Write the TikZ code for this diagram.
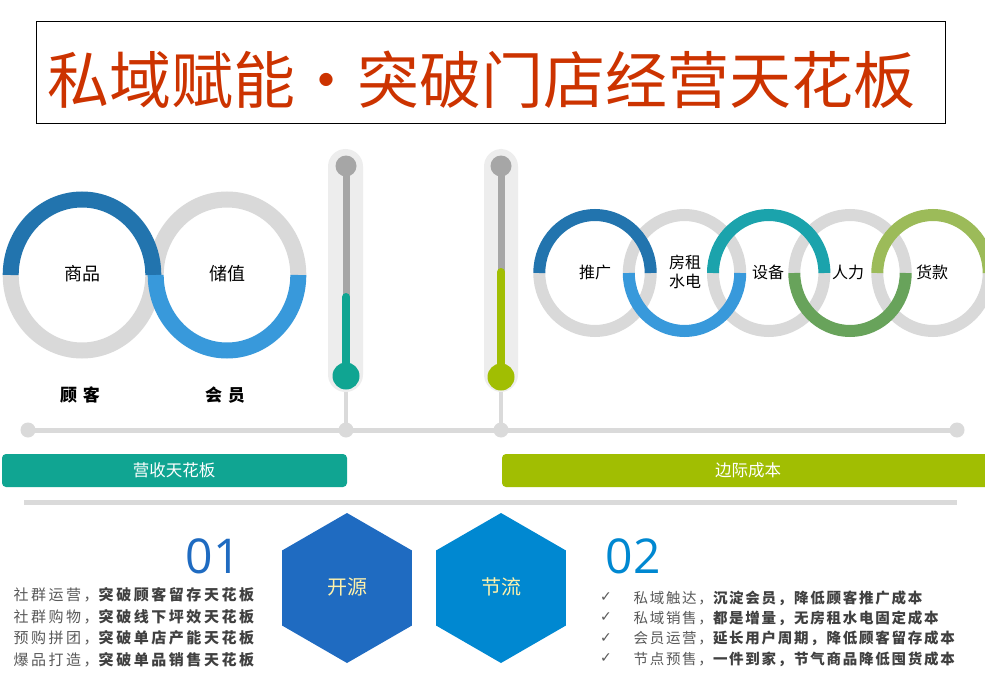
\documentclass[tikz,border=0pt]{standalone}
\usepackage{fontspec}
\setmainfont{Noto Sans CJK SC}
\newfontfamily\numfont{Open Sans}
\newfontfamily\symfont{DejaVu Sans}
\definecolor{titlered}{HTML}{CC3300}
\definecolor{ringgray}{HTML}{D9D9D9}
\definecolor{linegray}{HTML}{DADADA}
\definecolor{thermobg}{HTML}{EDEDED}
\definecolor{knobgray}{HTML}{A6A6A6}
\definecolor{tealc}{HTML}{10A592}
\definecolor{limec}{HTML}{A1BE02}
\definecolor{darkblue}{HTML}{2274AE}
\definecolor{lightblue}{HTML}{3899DB}
\definecolor{tealring}{HTML}{1BA3AC}
\definecolor{greenring}{HTML}{68A35B}
\definecolor{olivering}{HTML}{9CBB59}
\definecolor{hexA}{HTML}{1F6BC1}
\definecolor{hexB}{HTML}{0088D1}
\definecolor{hextext}{HTML}{FFF2AB}
\definecolor{txtgray}{HTML}{595959}
\definecolor{txtdark}{HTML}{404040}
\newcommand\ringarc[8]{\draw[line width=#8, draw=#7] (#1,#2) ++(#5:#3 and #4) arc[start angle=#5, end angle=#6, x radius=#3, y radius=#4];}
\begin{document}
\begin{tikzpicture}[x=1pt,y=-1pt,
  ringlabel/.style={font=\fontsize{18}{20}\selectfont, text=black, align=center},
  smallring/.style={font=\fontsize{16}{19}\selectfont, text=black, align=center},
  barlabel/.style={font=\fontsize{16.5}{16.5}\selectfont, text=white},
  hexlabel/.style={font=\fontsize{20}{20}\selectfont, text=hextext},
  leftline/.style={anchor=west, text=txtgray, font=\fontsize{15}{15}\selectfont\addfontfeature{LetterSpace=17}},
  rightline/.style={anchor=west, text=txtgray, font=\fontsize{14.5}{15}\selectfont\addfontfeature{LetterSpace=12}},
  checkmark/.style={text=txtgray, font=\symfont\fontsize{14}{14}\selectfont},
  dot/.style={fill=linegray}
]
\useasboundingbox (0,0) rectangle (985,690);
\fill[white] (0,0) rectangle (985,690);

% title
\node[draw=black, line width=1pt, minimum width=909pt, minimum height=102pt, inner sep=0] (titlebox) at (490.5,73) {};
\node[font=\fontsize{62}{62}\selectfont, text=titlered] (title) at (481,80) {私域赋能•突破门店经营天花板};

% left rings
\ringarc{82}{275}{71.3}{75.5}{0}{180}{ringgray}{16}
\ringarc{227}{275}{71.3}{75.5}{180}{360}{ringgray}{16}
\ringarc{82}{275}{71.3}{75.5}{180}{360}{darkblue}{16}
\ringarc{227}{275}{71.3}{75.5}{0}{180}{lightblue}{16}
\node[ringlabel] (shangpin) at (82,274) {商品};
\node[ringlabel] (chuzhi) at (227,274) {储值};
\node[font=\fontsize{17}{17}\selectfont\bfseries\addfontfeature{LetterSpace=35}, text=black] (guke) at (80,395) {顾客};
\node[font=\fontsize{17}{17}\selectfont\bfseries\addfontfeature{LetterSpace=35}, text=black] (huiyuan) at (225,395) {会员};

% thermometers
\fill[thermobg, rounded corners=17.5] (328,149) rectangle (363,392);
\draw[knobgray, line width=7] (346,166) -- (346,300);
\fill[knobgray] (346,166) circle (10.5);
\draw[tealc, line width=8, line cap=round] (346,297) -- (346,376);
\fill[tealc] (346,376) circle (13.5);
\draw[linegray, line width=4] (346,392) -- (346,430);

\fill[thermobg, rounded corners=17.5] (484,149) rectangle (518,392);
\draw[knobgray, line width=7] (501,166) -- (501,275);
\fill[knobgray] (501,166) circle (10.5);
\draw[limec, line width=8, line cap=round] (501,272) -- (501,377);
\fill[limec] (501,377) circle (13.5);
\draw[linegray, line width=4] (501,392) -- (501,430);

% timeline
\coordinate (t0) at (28,430);
\coordinate (t1) at (346,430);
\coordinate (t2) at (501,430);
\coordinate (t3) at (957,430);
\draw[linegray, line width=5] (t0) -- (t3);
\foreach \p in {t0,t1,t2,t3} \fill[dot] (\p) circle (7.5);

% right rings
\ringarc{684.5}{273}{55.7}{58}{180}{360}{ringgray}{12}
\ringarc{850}{273}{55.7}{58}{180}{360}{ringgray}{12}
\ringarc{595}{273}{55.7}{58}{0}{180}{ringgray}{12}
\ringarc{768.7}{273}{55.7}{58}{0}{180}{ringgray}{12}
\ringarc{933}{273}{55.7}{58}{0}{180}{ringgray}{12}
\ringarc{595}{273}{55.7}{58}{180}{360}{darkblue}{12}
\ringarc{684.5}{273}{55.7}{58}{0}{180}{lightblue}{12}
\ringarc{768.7}{273}{55.7}{58}{180}{360}{tealring}{12}
\ringarc{850}{273}{55.7}{58}{0}{180}{greenring}{12}
\ringarc{933}{273}{55.7}{58}{180}{360}{olivering}{12}
\node[smallring] (tuiguang) at (595,272) {推广};
\node[smallring] (fangzu) at (685,272) {房租\\水电};
\node[smallring] (shebei) at (768,272) {设备};
\node[smallring] (renli) at (848,272) {人力};
\node[smallring] (huokuan) at (932,272) {货款};

% bars
\fill[tealc, rounded corners=4] (2,454) rectangle (347,487);
\node[barlabel] (yingshou) at (174,470) {营收天花板};
\fill[limec, rounded corners=4] (502,454) rectangle (995,487);
\node[barlabel] (bianji) at (748,470) {边际成本};

% separator
\draw[linegray, line width=5] (24,502) -- (957,502);

% hexagons
\fill[hexA] (347,588) +(90:75) -- +(30:75) -- +(-30:75) -- +(-90:75) -- +(-150:75) -- +(150:75) -- cycle;
\node[hexlabel] (kaiyuan) at (347,587) {开源};
\fill[hexB] (501,588) +(90:75) -- +(30:75) -- +(-30:75) -- +(-90:75) -- +(-150:75) -- +(150:75) -- cycle;
\node[hexlabel] (jieliu) at (501,587) {节流};

% numbers
\node[font=\numfont\fontsize{48}{48}\selectfont, text=hexA] (n01) at (213,556) {01};
\node[font=\numfont\fontsize{48}{48}\selectfont, text=hexB] (n02) at (633,556) {02};

% left list
\node[leftline] (l1) at (10,595) {社群运营，{\bfseries\color{txtdark}突破顾客留存天花板}};
\node[leftline] (l2) at (10,617) {社群购物，{\bfseries\color{txtdark}突破线下坪效天花板}};
\node[leftline] (l3) at (10,638) {预购拼团，{\bfseries\color{txtdark}突破单店产能天花板}};
\node[leftline] (l4) at (10,660) {爆品打造，{\bfseries\color{txtdark}突破单品销售天花板}};

% right list
\node[checkmark] (c1) at (606,597) {✓};
\node[checkmark] (c2) at (606,617) {✓};
\node[checkmark] (c3) at (606,638) {✓};
\node[checkmark] (c4) at (606,658) {✓};
\node[rightline] (r1) at (630,598) {私域触达，{\bfseries\color{txtdark}沉淀会员，降低顾客推广成本}};
\node[rightline] (r2) at (630,618) {私域销售，{\bfseries\color{txtdark}都是增量，无房租水电固定成本}};
\node[rightline] (r3) at (630,638) {会员运营，{\bfseries\color{txtdark}延长用户周期，降低顾客留存成本}};
\node[rightline] (r4) at (630,659) {节点预售，{\bfseries\color{txtdark}一件到家，节气商品降低囤货成本}};
\end{tikzpicture}
\end{document}
